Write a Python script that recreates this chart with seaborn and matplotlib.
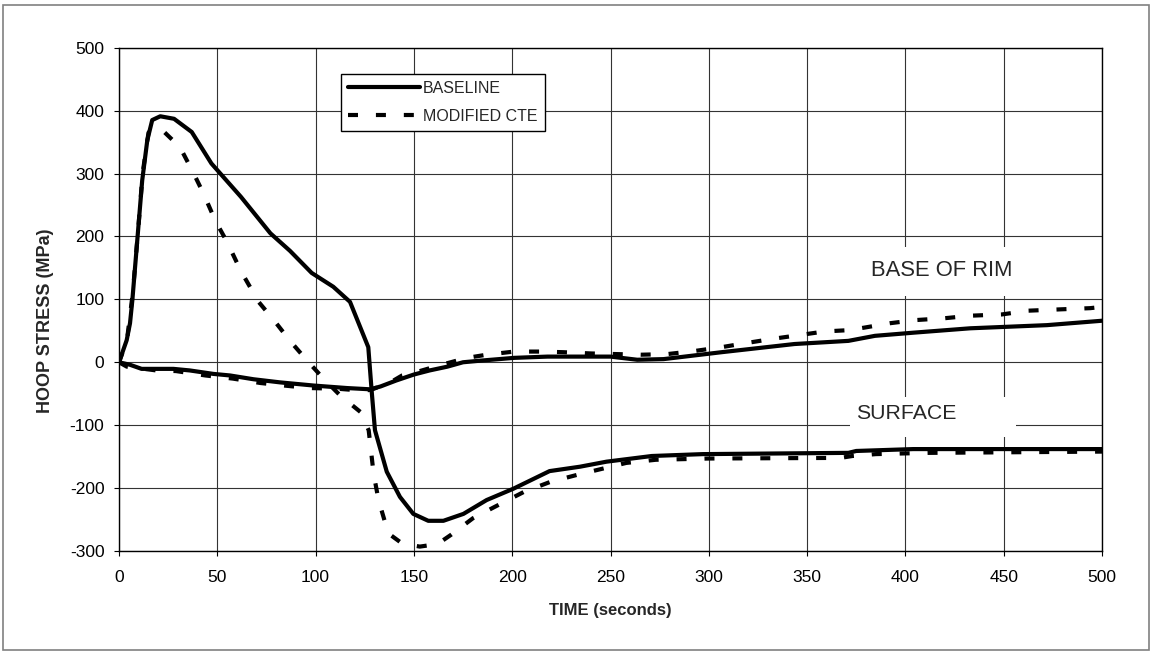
import numpy as np
import pandas as pd
import matplotlib
matplotlib.use("Agg")
import matplotlib.pyplot as plt
from matplotlib.patches import Rectangle
import seaborn as sns

# surface, baseline
t_base_surf = [0, 3.9, 5.6, 6.8, 9.3, 11.8, 14.4, 16.9, 21, 28, 37, 47, 62, 77, 87, 98, 109,
               117.5, 126.8, 128.5, 130.2, 136.2, 142.9, 149.7, 157.3, 165, 175.2, 187, 200.6,
               219, 234.5, 248, 271, 297, 371, 375, 404, 500]
s_base_surf = [0, 35, 62, 99, 194, 289, 353, 385, 391, 387, 366, 316, 263, 205, 177, 142, 120,
               96, 24, -45, -108, -174, -214, -241, -252, -252, -241, -219, -201,
               -173, -166, -158, -149, -146, -144, -141, -138, -138]

# surface, modified CTE
t_mod_surf = [0, 4, 7, 10, 12, 15, 17, 23, 31, 38, 43, 49, 55, 62, 71, 79, 87, 95.6, 104, 112.6,
              122.8, 127, 129.5, 132, 137, 144, 153, 162, 169, 180, 191, 206, 219.5, 233, 258,
              273, 300, 367, 373, 385, 398, 412, 500]
s_mod_surf = [0, 34, 110, 220, 300, 365, 372, 366, 342, 300, 268, 225, 191, 145, 96, 66, 34, 3, -26, -53,
              -79, -108, -177, -219, -272, -288, -293, -289, -274, -248, -230, -206, -190, -179, -160,
              -155, -153, -152, -149, -146, -145, -144, -142]

# base of rim, baseline
t_base_rim = [0, 5.6, 11.5, 27.7, 36, 48, 56.5, 68.4, 82, 99, 116, 127.8, 133, 141, 150, 158, 167,
              175, 184, 201, 218, 230, 250, 263.6, 277, 306.5, 343.6, 371, 384.5, 404, 433, 472, 500]
s_base_rim = [0, -4, -10.5, -10.5, -13, -18.5, -21, -27, -32, -37, -41, -43, -38.5, -29, -19.5, -13, -7,
              0, 2.6, 7, 9, 9, 9, 4, 5, 16, 29, 34, 42, 47, 54, 59, 66]

# base of rim, modified CTE
t_mod_rim = [0, 4, 19, 29, 44, 58, 72, 84, 97, 111, 123, 128, 138, 144, 153, 164, 177, 187, 201, 214,
             226, 240, 253, 265.6, 279, 293, 306.5, 318, 332, 345.6, 359, 371, 379, 392, 405, 420,
             433, 449, 462.6, 478, 494, 500]
s_mod_rim = [0, -7, -13, -14, -21, -26, -33, -37, -41, -42, -45, -44, -32, -21, -14, -4, 7, 12, 17, 17,
             16, 14, 13, 12, 13, 18, 24, 30, 37, 43, 49, 51, 55, 62, 67, 70,
             74, 76, 82, 84, 86, 88]

x_ticks = np.arange(0, 501, 50)
y_ticks = np.arange(-300, 501, 100)

sns.set_style("white")
plt.rcParams["font.family"] = ["Liberation Sans", "DejaVu Sans"]
plt.rcParams["axes.unicode_minus"] = False

fig = plt.figure(figsize=(11.51, 6.55), dpi=100)
ax = fig.add_axes([119 / 1151, 1 - 551 / 655, 983 / 1151, 503.3 / 655])

solid = dict(color="black", lw=3.0, solid_capstyle="round", solid_joinstyle="round", zorder=3)
dashed = dict(color="black", lw=3.0, linestyle=(0, (2.4, 4.3)), dash_capstyle="butt", zorder=4)

sns.lineplot(x=t_base_surf, y=s_base_surf, ax=ax, estimator=None, label="BASELINE", **solid)
sns.lineplot(x=t_mod_surf, y=s_mod_surf, ax=ax, estimator=None, label="MODIFIED CTE", **dashed)
sns.lineplot(x=t_base_rim, y=s_base_rim, ax=ax, estimator=None, label="_nolegend_", **solid)
sns.lineplot(x=t_mod_rim, y=s_mod_rim, ax=ax, estimator=None, label="_nolegend_", **dashed)

ax.set_xlim(0, 500)
ax.set_ylim(-300, 500)
ax.set_xticks(x_ticks)
ax.set_yticks(y_ticks)
ax.grid(True, color="#333333", lw=0.8)
ax.set_axisbelow(True)
for s in ax.spines.values():
    s.set_color("black")
    s.set_linewidth(1.0)
ax.tick_params(axis="both", direction="out", length=3.5, width=0.8, pad=7,
               labelsize=12.5, color="black", labelcolor="black",
               bottom=True, left=True)
ax.tick_params(axis="x", pad=10)

ax.set_xlabel("TIME (seconds)", fontsize=12, fontweight="bold", va="center")
ax.xaxis.set_label_coords(0.4995, -0.119)
ax.set_ylabel("HOOP STRESS (MPa)", fontsize=13, fontweight="bold", va="center")
ax.yaxis.set_label_coords(-0.0745, 0.457)

# white boxes behind the annotations
ax.add_patch(Rectangle((377, 105), 84, 78, facecolor="white", edgecolor="none", zorder=1.5))
ax.add_patch(Rectangle((372, -119), 84.5, 63.5, facecolor="white", edgecolor="none", zorder=1.5))
ax.text(418.6, 146, "BASE OF RIM", fontsize=15.8, ha="center", va="center", zorder=5)
ax.text(400.5, -82, "SURFACE", fontsize=15.3, ha="center", va="center", zorder=5)

leg = ax.legend(loc="upper left", bbox_to_anchor=(0.2255, 0.9483), borderaxespad=0,
                fontsize=11.5, handlelength=4.5, handletextpad=0.2, labelspacing=0.8,
                borderpad=0.45, fancybox=False, framealpha=1, edgecolor="black")
leg.get_frame().set_linewidth(1.0)

fig.patches.append(Rectangle((3 / 1151, 5 / 655), 1146 / 1151, 645 / 655, transform=fig.transFigure,
                             fill=False, edgecolor="#808080", lw=1.2))

fig.savefig("out.png", dpi=100)
